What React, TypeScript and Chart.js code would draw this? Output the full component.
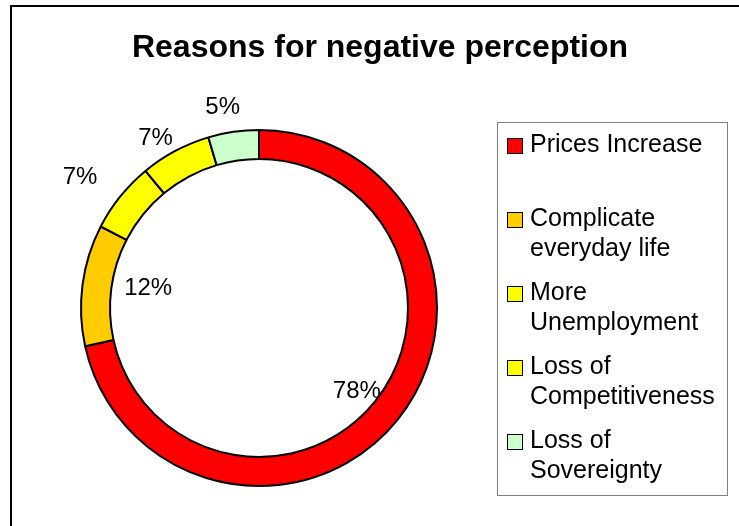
import React, { useEffect, useRef } from "react";
import { Chart, registerables } from "chart.js";

Chart.register(...registerables);

// ---- Data ----
const title = "Reasons for negative perception";
const categories = [
  "Prices Increase",
  "Complicate everyday life",
  "More Unemployment",
  "Loss of Competitiveness",
  "Loss of Sovereignty",
];
const values = [78, 12, 7, 7, 5];
const percentLabels = ["78%", "12%", "7%", "7%", "5%"];
const colors = ["#FF0000", "#FFCC00", "#FFFF00", "#FFFF00", "#CCFFCC"];

// ---- Style / placement ----
const FONT = "'Liberation Sans', Arial, Helvetica, sans-serif";
const LABEL_RADIUS = [127, 113, 223, 200, 206];
const LABEL_NUDGE_DEG = [0.8, 3.8, -2.2, -3.1, -1.9];

function wrapText(ctx: CanvasRenderingContext2D, text: string, maxW: number): string[] {
  const words = text.split(" ");
  const lines: string[] = [];
  let cur = "";
  for (const w of words) {
    const test = cur ? cur + " " + w : w;
    if (cur && ctx.measureText(test).width > maxW) {
      lines.push(cur);
      cur = w;
    } else {
      cur = test;
    }
  }
  if (cur) lines.push(cur);
  return lines;
}

const decorPlugin = {
  id: "decor",
  beforeDraw(chart: any) {
    const ctx: CanvasRenderingContext2D = chart.ctx;
    ctx.save();
    ctx.fillStyle = "#FFFFFF";
    ctx.fillRect(0, 0, chart.width, chart.height);
    // outer frame
    ctx.strokeStyle = "#000000";
    ctx.lineWidth = 2;
    ctx.strokeRect(11, 6, 780, 600);
    // title
    ctx.fillStyle = "#000000";
    ctx.font = `bold 32px ${FONT}`;
    ctx.textAlign = "center";
    ctx.textBaseline = "alphabetic";
    ctx.fillText(title, 380, 57);
    ctx.restore();
  },
  afterDatasetsDraw(chart: any) {
    const ctx: CanvasRenderingContext2D = chart.ctx;
    const meta = chart.getDatasetMeta(0);
    ctx.save();
    // percentage labels
    ctx.fillStyle = "#000000";
    ctx.font = `24px ${FONT}`;
    ctx.textAlign = "center";
    ctx.textBaseline = "alphabetic";
    meta.data.forEach((arc: any, i: number) => {
      const mid = (arc.startAngle + arc.endAngle) / 2 + (LABEL_NUDGE_DEG[i] * Math.PI) / 180;
      const r = LABEL_RADIUS[i];
      const x = arc.x + r * Math.cos(mid);
      const y = arc.y + r * Math.sin(mid);
      ctx.fillText(percentLabels[i], x, y + 8.6);
    });

    // legend
    const boxL = 497.5, boxT = 122.5, boxW = 230, boxH = 373;
    ctx.fillStyle = "#FFFFFF";
    ctx.fillRect(boxL, boxT, boxW, boxH);
    ctx.strokeStyle = "#808080";
    ctx.lineWidth = 1;
    ctx.strokeRect(boxL, boxT, boxW, boxH);
    ctx.font = `25px ${FONT}`;
    ctx.textAlign = "left";
    categories.forEach((cat, i) => {
      const base = 152 + i * 74;
      ctx.fillStyle = colors[i];
      ctx.fillRect(507, base - 14, 15, 15);
      ctx.strokeStyle = "#000000";
      ctx.lineWidth = 1;
      ctx.strokeRect(507.5, base - 13.5, 15, 15);
      ctx.fillStyle = "#000000";
      const lines = wrapText(ctx, cat, 195);
      lines.forEach((ln, j) => ctx.fillText(ln, 530, base + j * 30));
    });
    ctx.restore();
  },
};

export default function App() {
  const canvasRef = useRef<HTMLCanvasElement | null>(null);

  useEffect(() => {
    const canvas = canvasRef.current;
    if (!canvas) return;
    const chart = new Chart(canvas, {
      type: "doughnut",
      data: {
        labels: categories,
        datasets: [
          {
            data: values,
            backgroundColor: colors,
            borderColor: "#000000",
            borderWidth: 2,
            radius: 178,
          } as any,
        ],
      },
      options: {
        responsive: false,
        maintainAspectRatio: false,
        animation: false,
        devicePixelRatio: 1,
        events: [],
        cutout: "83.7%",
        layout: { padding: { left: 81, right: 302, top: 130, bottom: 40 } },
        plugins: {
          legend: { display: false },
          tooltip: { enabled: false },
          title: { display: false },
        },
      } as any,
      plugins: [decorPlugin],
    });
    return () => chart.destroy();
  }, []);

  return (
    <div style={{ position: "absolute", left: 0, top: 0, width: 739, height: 526 }}>
      <canvas ref={canvasRef} width={739} height={526} style={{ width: 739, height: 526, display: "block" }} />
    </div>
  );
}
